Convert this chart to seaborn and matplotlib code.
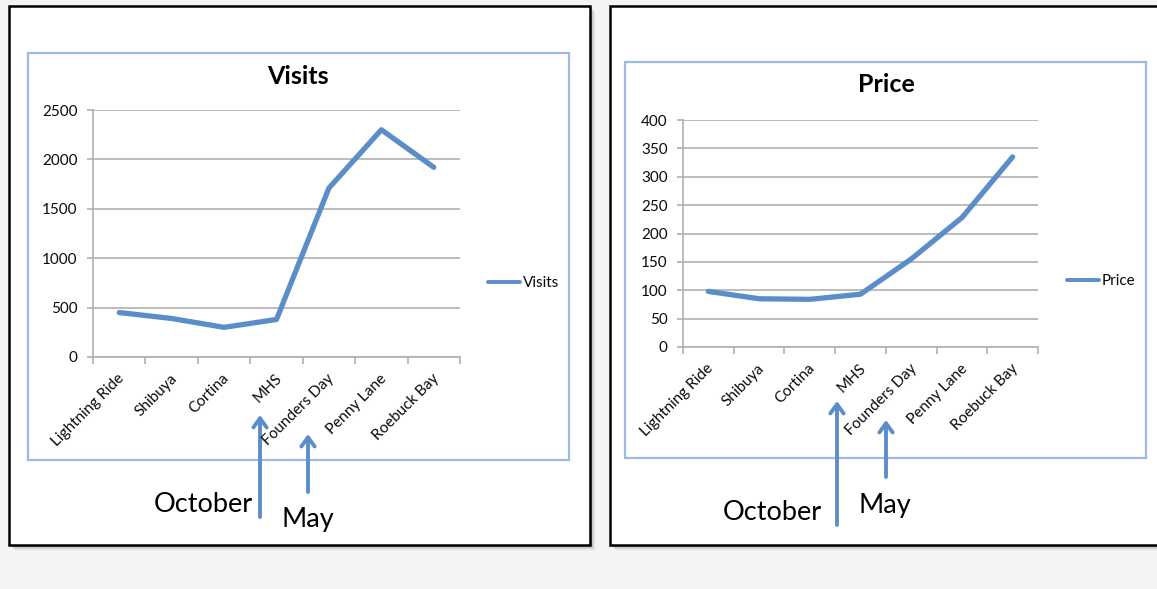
import matplotlib
matplotlib.use("Agg")
import matplotlib.pyplot as plt
import matplotlib.transforms as mtransforms
from matplotlib.patches import Rectangle
import seaborn as sns

# ---- data -------------------------------------------------------------
categories = ["Lightning Ride", "Shibuya", "Cortina", "MHS",
              "Founders Day", "Penny Lane", "Roebuck Bay"]
visits = [450, 390, 300, 380, 1710, 2300, 1920]
price = [98, 85, 84, 93, 155, 228, 335]

visits_ticks = [0, 500, 1000, 1500, 2000, 2500]
price_ticks = [0, 50, 100, 150, 200, 250, 300, 350, 400]

# ---- style ------------------------------------------------------------
sns.set_theme(style="white")
plt.rcParams["font.family"] = ["Lato", "DejaVu Sans"]

W, H = 1157, 589
DPI = 100
LINE = "#5b8ec9"
FRAME = "#9dbbe0"
GRID = "#b0b0b0"
BG = "#f4f4f4"
INK = "#0a0a0a"

fig = plt.figure(figsize=(W / DPI, H / DPI), dpi=DPI, facecolor=BG)

# full-figure pixel canvas for panels, frames and annotations
bg = fig.add_axes([0, 0, 1, 1], zorder=0)
bg.set_xlim(0, W)
bg.set_ylim(H, 0)
bg.axis("off")


def panel(x0, y0, x1, y1):
    # soft drop shadow
    for i, a in enumerate([0.10, 0.08, 0.06, 0.04, 0.02]):
        off = 2 + i
        bg.add_patch(Rectangle((x0 + off, y0 + off), x1 - x0, y1 - y0,
                               facecolor="black", edgecolor="none", alpha=a))
    bg.add_patch(Rectangle((x0, y0), x1 - x0, y1 - y0, facecolor="white",
                           edgecolor="black", lw=1.8))


panel(9, 6, 590, 545)
panel(610, 6, 1175, 545)

# light-blue chart frames
bg.add_patch(Rectangle((28, 53), 541, 407, facecolor="white",
                       edgecolor=FRAME, lw=1.6))
bg.add_patch(Rectangle((625, 62), 521, 396, facecolor="white",
                       edgecolor=FRAME, lw=1.6))


def px_axes(x0, y_top, x1, y_bot):
    return fig.add_axes([x0 / W, 1 - y_bot / H, (x1 - x0) / W,
                         (y_bot - y_top) / H], zorder=2)


def style_chart(ax, values, ticks, title, title_xy, legend_xy, name):
    n = len(categories)
    sns.lineplot(x=list(range(n)), y=values, ax=ax, color=LINE, lw=3.8,
                 label=name, sort=False, legend=False)
    ax.lines[-1].set_solid_capstyle("round")
    ax.set_facecolor("none")
    ax.set_xlim(-0.5, n - 0.5)
    ax.set_ylim(ticks[0], ticks[-1])
    ax.set_yticks(ticks)
    ax.set_yticklabels([str(t) for t in ticks], fontsize=11, color=INK)
    ax.yaxis.grid(True, color=GRID, lw=1.2)
    ax.set_axisbelow(True)
    for s in ["top", "right"]:
        ax.spines[s].set_visible(False)
    for s in ["left", "bottom"]:
        ax.spines[s].set_color(GRID)
        ax.spines[s].set_linewidth(1.2)
    ax.tick_params(axis="y", which="major", length=4, width=1.2,
                   color=GRID, pad=7, left=True)
    ax.set_xticks(list(range(n)))
    ax.set_xticks([i - 0.5 for i in range(n + 1)], minor=True)
    ax.tick_params(axis="x", which="minor", length=5, width=1.2,
                   color=GRID, bottom=True)
    ax.tick_params(axis="x", which="major", length=0, pad=14)
    ax.set_xticklabels(categories, rotation=45, ha="right", va="center",
                       rotation_mode="anchor", fontsize=11, color=INK)
    shift = mtransforms.ScaledTranslation(3 / DPI, 0, fig.dpi_scale_trans)
    for lab in ax.get_xticklabels():
        lab.set_transform(lab.get_transform() + shift)
    ax.set_xlabel("")
    ax.set_ylabel("")
    bg.text(title_xy[0], title_xy[1], title, ha="center", va="center",
            fontsize=18, fontweight="bold", color="black")
    ax.legend(loc="center left", bbox_to_anchor=(legend_xy[0] / W,
                                                 1 - legend_xy[1] / H),
              bbox_transform=fig.transFigure, frameon=False, fontsize=11,
              handlelength=2.1, handletextpad=0.15, borderaxespad=0,
              labelcolor=INK)
    leg = ax.get_legend()
    for h in leg.get_lines():
        h.set_linewidth(2.8)


ax1 = px_axes(93, 110, 460, 357)
style_chart(ax1, visits, visits_ticks, "Visits", (298, 76), (482, 283), "Visits")

ax2 = px_axes(683, 120, 1038, 347)
style_chart(ax2, price, price_ticks, "Price", (886, 85), (1061, 281), "Price")


def arrow(x, y_top, y_bot):
    bg.annotate("", xy=(x, y_top), xytext=(x, y_bot),
                arrowprops=dict(arrowstyle="->,head_length=0.55,head_width=0.4",
                                color=LINE, lw=2.8, shrinkA=0, shrinkB=0),
                zorder=3)


arrow(260, 415, 517)
arrow(308, 434, 492)
arrow(837, 401, 525)
arrow(886, 420, 477)

for x, y, s in [(203, 505, "October"), (308, 519, "May"),
                (772, 513, "October"), (885, 505, "May")]:
    bg.text(x, y, s, ha="center", va="center", fontsize=19.5, color="black")

fig.savefig("out.png", dpi=DPI, facecolor=BG)
